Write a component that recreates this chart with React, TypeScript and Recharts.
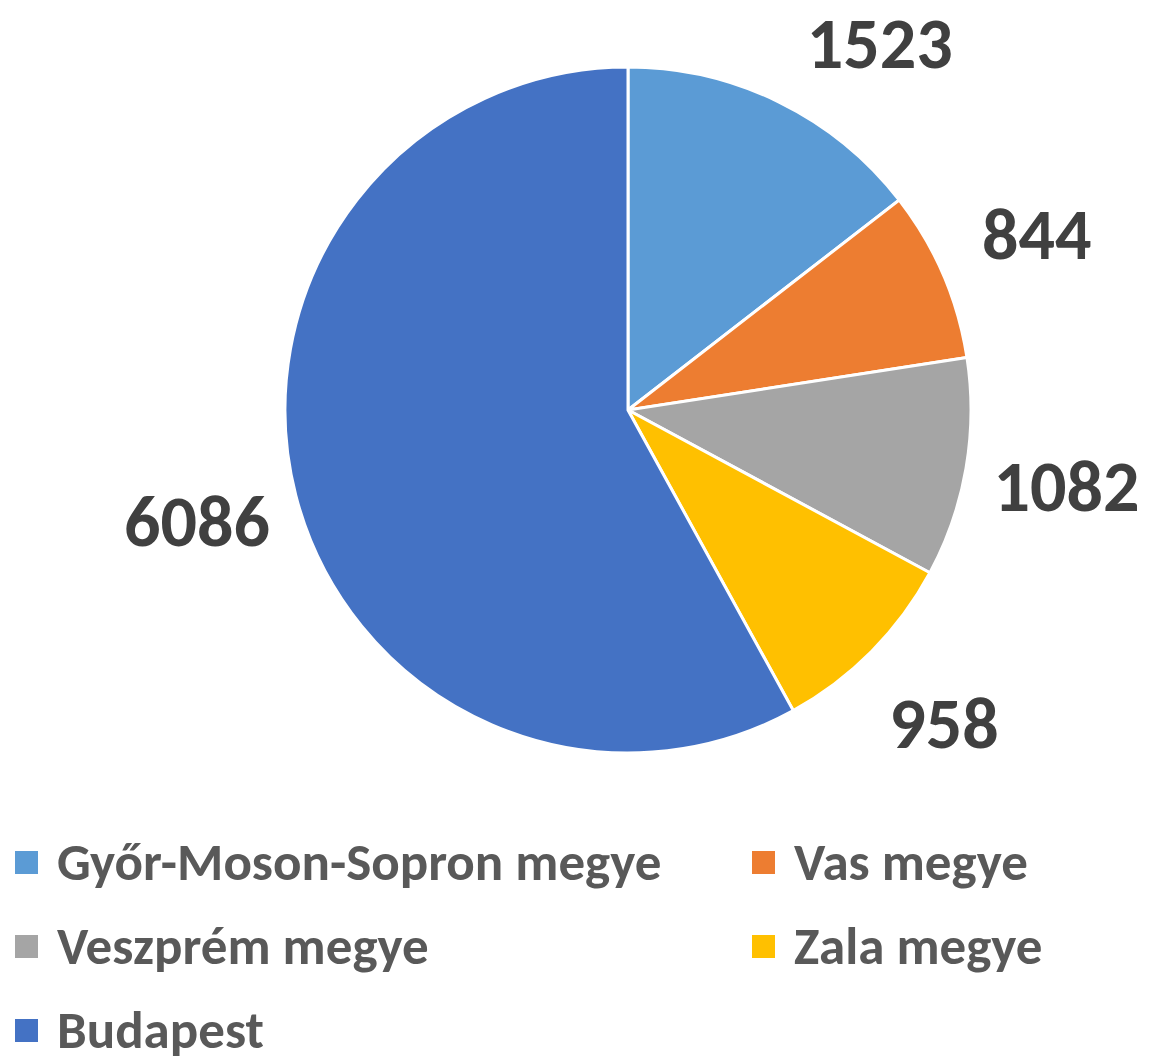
import React from 'react';
import { PieChart, Pie, Cell, Legend } from 'recharts';

const regions = [
  'Győr-Moson-Sopron megye',
  'Vas megye',
  'Veszprém megye',
  'Zala megye',
  'Budapest',
];
const counts = [1523, 844, 1082, 958, 6086];
const colors = ['#5B9BD5', '#ED7D31', '#A5A5A5', '#FFC000', '#4472C4'];

const data = regions.map((name, i) => ({ name, value: counts[i] }));

const FONT = "Carlito, Calibri, 'Open Sans', sans-serif";
const RAD = Math.PI / 180;

// Excel style outside label: same radius, pushed along the circle if it would leave the top
function renderLabel(props: any) {
  const { cx, cy, midAngle, outerRadius, value } = props;
  const r = outerRadius + 102;
  let x = cx + r * Math.cos(midAngle * RAD);
  let y = cy - r * Math.sin(midAngle * RAD);
  const minY = 43;
  if (y < minY) {
    y = minY;
    const dy = cy - minY;
    const dx = Math.sqrt(Math.max(r * r - dy * dy, 0));
    x = cx + (Math.cos(midAngle * RAD) >= 0 ? dx : -dx);
  }
  return (
    <text
      x={x}
      y={y}
      fill="#404040"
      textAnchor="middle"
      dominantBaseline="central"
      fontFamily={FONT}
      fontWeight={700}
      fontSize={72}
    >
      {value}
    </text>
  );
}

function LegendBox() {
  return (
    <div
      style={{
        display: 'grid',
        gridTemplateColumns: '737px 380px',
        gridAutoRows: 52,
        rowGap: 32,
        fontFamily: FONT,
        fontWeight: 700,
        fontSize: 53,
        lineHeight: 1,
        color: '#595959',
      }}
    >
      {regions.map((name, i) => (
        <div key={name} style={{ display: 'flex', alignItems: 'center', height: 52 }}>
          <span
            style={{
              display: 'inline-block',
              width: 23,
              height: 23,
              background: colors[i],
              marginRight: 19,
            }}
          />
          <span style={{ lineHeight: 1 }}>{name}</span>
        </div>
      ))}
    </div>
  );
}

export default function App() {
  return (
    <div style={{ position: 'absolute', left: 0, top: 0, width: 1153, height: 1057, background: '#fff', overflow: 'hidden' }}>
      <PieChart width={1153} height={1057} margin={{ top: 0, right: 0, bottom: 0, left: 0 }}>
        <Pie
          data={data}
          dataKey="value"
          nameKey="name"
          cx={628}
          cy={410}
          outerRadius={343}
          startAngle={90}
          endAngle={-270}
          stroke="#ffffff"
          strokeWidth={3}
          label={renderLabel}
          labelLine={false}
          isAnimationActive={false}
        >
          {data.map((d, i) => (
            <Cell key={d.name} fill={colors[i]} />
          ))}
        </Pie>
        <Legend
          content={() => <LegendBox />}
          wrapperStyle={{ position: 'absolute', left: 15, top: 836, width: 1130 }}
        />
      </PieChart>
    </div>
  );
}
